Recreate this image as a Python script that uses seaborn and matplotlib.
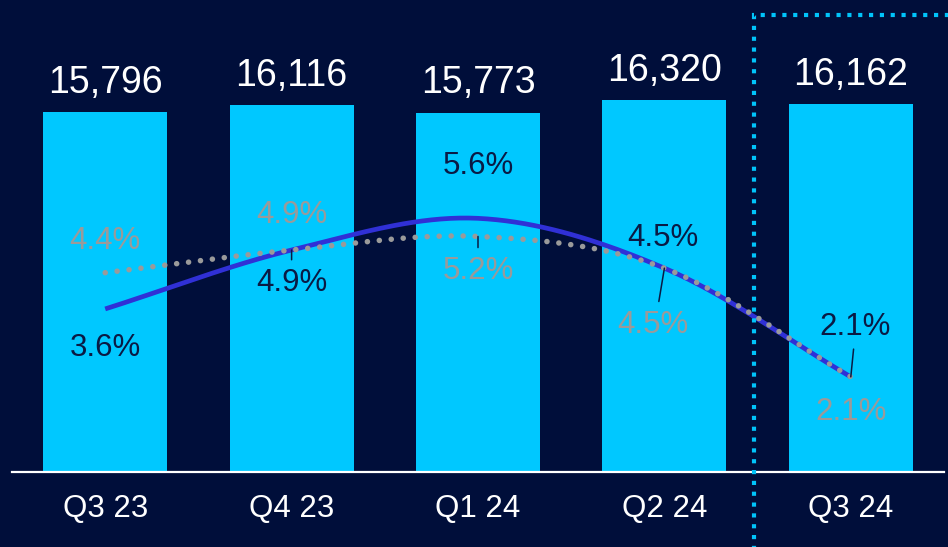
import numpy as np
import pandas as pd
import matplotlib
matplotlib.use("Agg")
import matplotlib.pyplot as plt
from matplotlib import font_manager
import matplotlib.patches as mpatches
import seaborn as sns

# ---- data ----
quarters = ["Q3 23", "Q4 23", "Q1 24", "Q2 24", "Q3 24"]
volumes = [15796, 16116, 15773, 16320, 16162]
series_a = [3.6, 4.9, 5.6, 4.5, 2.1]   # solid blue line
series_b = [4.4, 4.9, 5.2, 4.5, 2.1]   # dotted grey line

# ---- style ----
BG = "#000E3A"
BAR = "#00C8FF"
BLUE = "#3030D6"
GREY = "#9A9A9A"
DARK = "#0A1A44"

sns.set_theme(style="white")
names = {f.name for f in font_manager.fontManager.ttflist}
NARROW = "Liberation Sans Narrow" if "Liberation Sans Narrow" in names else "Liberation Sans"
plt.rcParams["font.family"] = ["Liberation Sans", "DejaVu Sans"]

fig = plt.figure(figsize=(9.48, 5.47), dpi=100, facecolor=BG)
ax = fig.add_axes([12 / 948, 75 / 547, 932 / 948, 472 / 547])
ax.set_facecolor(BG)

df = pd.DataFrame({"quarter": quarters, "volume": volumes})
sns.barplot(data=df, x="quarter", y="volume", color=BAR, width=0.665,
            saturation=1, ax=ax, edgecolor="none")
ax.set_xlim(-0.5, 4.5)
ax.set_ylim(0, 20710)
for s in ["top", "right", "left"]:
    ax.spines[s].set_visible(False)
ax.spines["bottom"].set_color("white")
ax.spines["bottom"].set_linewidth(1.6)
ax.set_yticks([])
ax.set_xlabel("")
ax.set_ylabel("")
ax.tick_params(axis="x", length=0, pad=16)
for lbl in ax.get_xticklabels():
    lbl.set_color("white")
    lbl.set_fontsize(22.5)
    lbl.set_family(NARROW)

for i, v in enumerate(volumes):
    ax.annotate(f"{v:,}", xy=(i, v), xytext=(0, 8), textcoords="offset points",
                ha="center", va="bottom", color="white", fontsize=27, family=NARROW)

# ---- lines on secondary axis ----
ax2 = ax.twinx()
ax2.set_ylim(0, 10.42)
ax2.axis("off")


def smooth(xs, ys, n=40):
    xs = np.asarray(xs, float)
    ys = np.asarray(ys, float)
    P = np.column_stack([xs, ys])
    P = np.vstack([2 * P[0] - P[1], P, 2 * P[-1] - P[-2]])
    out = []
    for k in range(1, len(P) - 2):
        p0, p1, p2, p3 = P[k - 1], P[k], P[k + 1], P[k + 2]
        t = np.linspace(0, 1, n, endpoint=(k == len(P) - 3))[:, None]
        seg = 0.5 * ((2 * p1) + (-p0 + p2) * t + (2 * p0 - 5 * p1 + 4 * p2 - p3) * t ** 2
                     + (-p0 + 3 * p1 - 3 * p2 + p3) * t ** 3)
        out.append(seg)
    out = np.vstack(out)
    return out[:, 0], out[:, 1]


xpos = np.arange(len(quarters))
bx, by = smooth(xpos, series_b)
ax2.plot(bx, by, color=GREY, lw=4.0, linestyle=(0, (0.01, 2.15)),
         dash_capstyle="round", solid_capstyle="round", zorder=4)
axx, axy = smooth(xpos, series_a)
ax2.plot(axx, axy, color=BLUE, lw=3.4, solid_capstyle="butt", zorder=3)

# labels: offsets in points (dx, dy)
offs_a = [(0, -28), (0, -24), (0, 38), (-1, 22), (3, 36)]
offs_b = [(0, 23), (0, 25), (0, -25), (-8, -41), (0, -25)]
for i in range(len(quarters)):
    ax2.annotate(f"{series_a[i]}%", xy=(i, series_a[i]), xytext=offs_a[i],
                 textcoords="offset points", ha="center", va="center",
                 color=DARK, fontsize=22.5, zorder=6)
    ax2.annotate(f"{series_b[i]}%", xy=(i, series_b[i]), xytext=offs_b[i],
                 textcoords="offset points", ha="center", va="center",
                 color=GREY, fontsize=22.5, zorder=6)

# leader ticks (from point, offsets in points)
leaders = [(1, series_b[1], (0, -1), (0, -7)),
           (2, series_b[2], (0, -3), (0, -8)),
           (3, series_b[3], (-1, 0), (-4, -24)),
           (4, series_a[4], (0, 0), (2, 20))]
for x, v, a, b in leaders:
    ax2.annotate("", xy=(x, v), xytext=b, textcoords="offset points",
                 arrowprops=dict(arrowstyle="-", color=DARK, lw=1.1,
                                 shrinkA=0, shrinkB=0,
                                 patchA=None, patchB=None,
                                 relpos=(0.5, 0.5)), zorder=5)

# dotted highlight box around the last quarter
rect = mpatches.Rectangle((754 / 948, -0.05), 0.3, 1 - 15 / 547 + 0.05,
                          transform=fig.transFigure, fill=False,
                          edgecolor="#00C4FA", lw=3.0,
                          linestyle=(0, (1, 1.6)), capstyle="butt", zorder=10)
fig.patches.append(rect)

fig.savefig("out.png", dpi=100, facecolor=BG)
